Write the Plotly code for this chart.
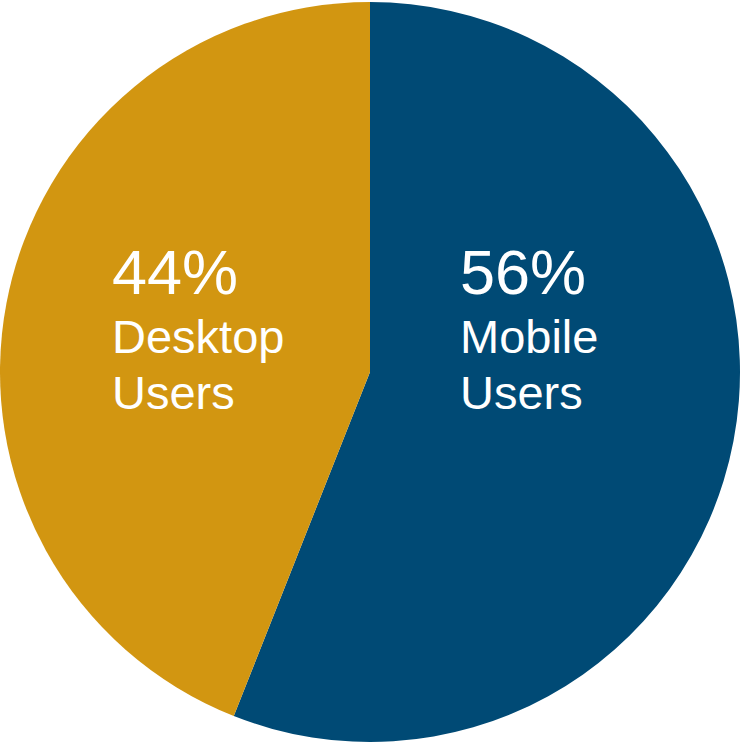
import plotly.graph_objects as go

labels = ["Mobile Users", "Desktop Users"]
values = [56, 44]
pct_text = ["56%", "44%"]
colors = ["#004A75", "#D29611"]

W, H = 740, 744

fig = go.Figure(go.Pie(
    labels=labels, values=values, sort=False, direction="clockwise", rotation=0,
    marker=dict(colors=colors, line=dict(width=0)),
    textinfo="none", hoverinfo="label+percent", showlegend=False,
    domain=dict(x=[0, 1], y=[0, 1]),
))

def px(x):
    return x / W

def py(y):
    return 1 - y / H

font = "Liberation Sans, Arial, sans-serif"
ann = []
for i, (lx, w1, w2) in enumerate([(458, "Mobile", "Users"), (110, "Desktop", "Users")]):
    ann.append(dict(text=pct_text[i], x=px(lx), y=py(272), xref="paper", yref="paper",
                    xanchor="left", yanchor="middle", showarrow=False,
                    font=dict(family=font, size=63, color="white")))
    ann.append(dict(text=w1, x=px(lx), y=py(337), xref="paper", yref="paper",
                    xanchor="left", yanchor="middle", showarrow=False,
                    font=dict(family=font, size=47, color="white")))
    ann.append(dict(text=w2, x=px(lx), y=py(392), xref="paper", yref="paper",
                    xanchor="left", yanchor="middle", showarrow=False,
                    font=dict(family=font, size=47, color="white")))

fig.update_layout(width=W, height=H, margin=dict(l=0, r=0, t=0, b=0),
                  paper_bgcolor="white", plot_bgcolor="white", annotations=ann)

fig.write_html("out.html", config={"displayModeBar": False},
               post_script="document.body.style.margin='0';")
